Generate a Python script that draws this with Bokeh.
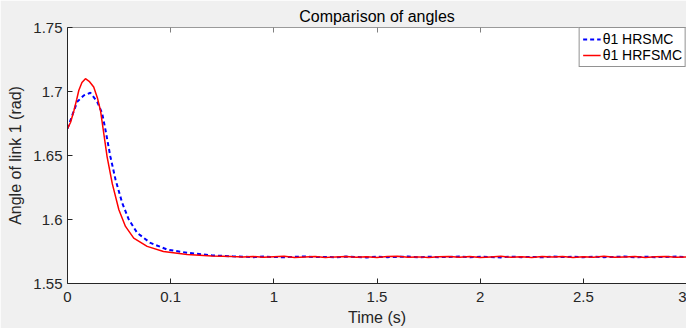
import numpy as np
from bokeh.plotting import figure
from bokeh.models import LinearAxis, FixedTicker, Legend, LegendItem, Range1d
from bokeh.embed import file_html
from bokeh.resources import INLINE

# Time axis positions (evenly spaced major ticks) and their printed labels
x_tick_pos = [0, 0.5, 1, 1.5, 2, 2.5, 3]
x_tick_labels = ["0", "0.1", "1", "1.5", "2", "2.5", "3"]
y_tick_pos = [1.55, 1.6, 1.65, 1.7, 1.75]
y_tick_labels = ["1.55", "1.6", "1.65", "1.7", "1.75"]

# theta1 under HRFSMC: transient part
t_hrfsmc = [0, 0.015, 0.031, 0.045, 0.055, 0.07, 0.087, 0.105, 0.127, 0.145,
            0.16, 0.176, 0.192, 0.217, 0.249, 0.281, 0.321, 0.386, 0.465,
            0.58, 0.7, 0.8]
th_hrfsmc = [1.671, 1.676, 1.685, 1.694, 1.701, 1.707, 1.710, 1.708, 1.7035,
             1.695, 1.685, 1.667, 1.649, 1.628, 1.6076, 1.5946, 1.5855,
             1.579, 1.575, 1.5726, 1.5715, 1.5710]

# theta1 under HRSMC: transient part
t_hrsmc = [0, 0.02, 0.047, 0.08, 0.111, 0.144, 0.168, 0.184, 0.208, 0.233,
           0.265, 0.297, 0.338, 0.402, 0.483, 0.58, 0.7, 0.8]
th_hrsmc = [1.671, 1.680, 1.692, 1.697, 1.699, 1.692, 1.683, 1.670, 1.649,
            1.631, 1.613, 1.600, 1.5895, 1.5817, 1.5765, 1.574, 1.572, 1.5712]

# steady-state samples (t = 0.85 ... 3.0 every 0.05)
t_tail = [round(0.85 + 0.05 * k, 2) for k in range(44)]
th_hrfsmc_tail = [1.5708, 1.5711, 1.5705, 1.5709, 1.5712, 1.5704, 1.5707,
                  1.5710, 1.5703, 1.5708, 1.5711, 1.5706, 1.5709, 1.5704,
                  1.5710, 1.5712, 1.5705, 1.5708, 1.5703, 1.5709, 1.5711,
                  1.5706, 1.5710, 1.5704, 1.5708, 1.5712, 1.5705, 1.5709,
                  1.5703, 1.5710, 1.5707, 1.5711, 1.5704, 1.5709, 1.5706,
                  1.5712, 1.5705, 1.5708, 1.5710, 1.5703, 1.5709, 1.5711,
                  1.5706, 1.5708]
th_hrsmc_tail = [1.5709, 1.5706, 1.5710, 1.5707, 1.5705, 1.5709, 1.5711,
                 1.5706, 1.5708, 1.5705, 1.5710, 1.5707, 1.5704, 1.5709,
                 1.5706, 1.5708, 1.5711, 1.5705, 1.5709, 1.5706, 1.5708,
                 1.5710, 1.5705, 1.5709, 1.5707, 1.5704, 1.5710, 1.5706,
                 1.5708, 1.5705, 1.5711, 1.5707, 1.5709, 1.5705, 1.5710,
                 1.5706, 1.5708, 1.5711, 1.5705, 1.5709, 1.5706, 1.5708,
                 1.5710, 1.5707]

FONT = "Liberation Sans"
TXT = "#262626"

p = figure(width=686, height=328, output_backend="svg", toolbar_location=None,
           x_range=Range1d(0, 3), y_range=Range1d(1.55, 1.75),
           min_border_left=67, min_border_right=0, min_border_top=27,
           min_border_bottom=44)
p.background_fill_color = "white"
p.border_fill_color = "#f0f0f0"
p.outline_line_color = None
p.grid.visible = False

p.title.text = "Comparison of angles"
p.title.align = "center"
p.title.text_font = FONT
p.title.text_font_size = "16px"
p.title.text_font_style = "normal"
p.title.text_color = "black"
p.title.standoff = 5
p.title.offset = 0

xa = p.xaxis[0]
xa.ticker = FixedTicker(ticks=x_tick_pos)
xa.major_label_overrides = dict(zip(x_tick_pos, x_tick_labels))
xa.axis_label = "Time (s)"
ya = p.yaxis[0]
ya.ticker = FixedTicker(ticks=y_tick_pos)
ya.major_label_overrides = dict(zip(y_tick_pos, y_tick_labels))
ya.axis_label = "Angle of link 1 (rad)"

for ax in (xa, ya):
    ax.minor_tick_line_color = None
    ax.major_tick_in = 5
    ax.major_tick_out = 0
    ax.axis_line_color = TXT
    ax.major_tick_line_color = TXT
    ax.major_label_text_font = FONT
    ax.major_label_text_font_size = "15px"
    ax.major_label_text_color = TXT
    ax.axis_label_text_font = FONT
    ax.axis_label_text_font_size = "16px"
    ax.axis_label_text_font_style = "normal"
    ax.axis_label_text_color = TXT
xa.major_label_standoff = 8
xa.axis_label_standoff = 4
ya.major_label_standoff = 5
ya.axis_label_standoff = 6

# box edge along the top with inward ticks, no labels
top = LinearAxis(ticker=FixedTicker(ticks=x_tick_pos), major_tick_in=5,
                 major_tick_out=0, minor_tick_line_color=None,
                 axis_line_color="#9a9a9a", major_tick_line_color="#808080",
                 major_label_text_font_size="1px", major_label_text_color=None,
                 major_label_standoff=0)
p.add_layout(top, "above")

r_hrsmc = p.line(t_hrsmc + t_tail, th_hrsmc + th_hrsmc_tail, line_color="#0000ff",
                 line_width=2, line_dash="4 3")
r_hrfsmc = p.line(t_hrfsmc + t_tail, th_hrfsmc + th_hrfsmc_tail,
                  line_color="#ff0000", line_width=1.5)

legend = Legend(items=[LegendItem(label="θ1 HRSMC", renderers=[r_hrsmc]),
                       LegendItem(label="θ1 HRFSMC", renderers=[r_hrfsmc])],
                location="top_right")
legend.margin = 0
legend.padding = 3
legend.spacing = 0
legend.label_text_font = FONT
legend.label_text_font_size = "14px"
legend.label_text_color = "black"
legend.label_height = 14
legend.glyph_height = 14
legend.glyph_width = 18
legend.label_standoff = 2
legend.border_line_color = TXT
legend.border_line_width = 1
legend.background_fill_alpha = 1
p.add_layout(legend)

open("out.html", "w").write(file_html(p, INLINE))
